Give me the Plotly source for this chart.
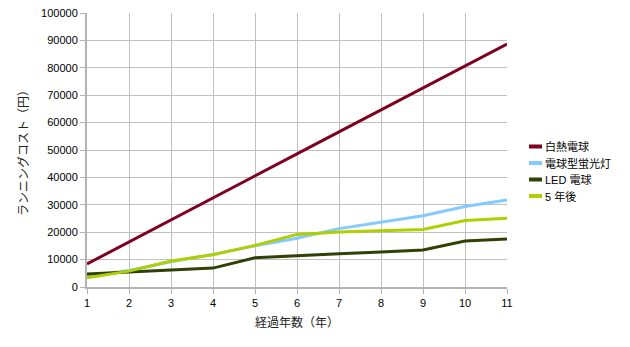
import plotly.graph_objects as go

years = [1, 2, 3, 4, 5, 6, 7, 8, 9, 10, 11]
incandescent = [8400, 16500, 24300, 32400, 40800, 48600, 56600, 64600, 72600, 80600, 88700]
fluorescent = [3800, 6000, 9200, 11900, 15000, 17800, 21300, 23700, 26000, 29400, 31800]
led = [4700, 5500, 6300, 6900, 10700, 11500, 12100, 12800, 13500, 16800, 17500]
five_years = [3400, 5800, 9500, 11800, 15200, 19200, 20100, 20500, 21000, 24300, 25100]

series = [
    ("白熱電球", incandescent, "#7e0021"),
    ("電球型蛍光灯", fluorescent, "#83caff"),
    ("LED 電球", led, "#314004"),
    ("5 年後", five_years, "#aecf00"),
]

W, H = 630, 347
ml, mr, mt, mb = 87, 123, 13, 60

fig = go.Figure()
for name, vals, color in series:
    fig.add_trace(go.Scatter(x=years, y=vals, name=name, mode="lines",
                             line=dict(color=color, width=3), showlegend=False))

# manual legend (paper coordinates derived from pixel layout)
pw, ph = W - ml - mr, H - mt - mb
def px_x(p):
    return (p - ml) / pw
def px_y(p):
    return 1 - (p - mt) / ph

row0, step = 146.5, 16.5
for i, (name, vals, color) in enumerate(series):
    yc = row0 + i * step
    fig.add_shape(type="line", xref="paper", yref="paper",
                  x0=px_x(529), x1=px_x(542), y0=px_y(yc), y1=px_y(yc),
                  line=dict(color=color, width=4))
    fig.add_annotation(x=px_x(543), y=px_y(yc), xref="paper", yref="paper",
                       text=name, showarrow=False, xanchor="left", yanchor="middle",
                       font=dict(size=11, color="black"))

font_family = "Liberation Sans, Noto Sans CJK JP, sans-serif"
fig.update_layout(
    width=W, height=H,
    margin=dict(l=ml, r=mr, t=mt, b=mb, autoexpand=False),
    paper_bgcolor="white", plot_bgcolor="white",
    font=dict(family=font_family, size=11, color="black"),
    showlegend=False,
)
fig.update_xaxes(
    range=[1, 11], tickvals=years, showgrid=True, gridcolor="#c0c0c0", gridwidth=1,
    showline=True, linecolor="#b3b3b3", linewidth=2, mirror=False,
    ticks="outside", ticklen=5, tickcolor="#b3b3b3", zeroline=False,
    title=dict(text="経過年数（年）", font=dict(size=12, color="#222222"), standoff=10),
)
fig.update_yaxes(
    range=[0, 100000], dtick=10000, showgrid=True, gridcolor="#c0c0c0", gridwidth=1,
    showline=True, linecolor="#b3b3b3", linewidth=2,
    ticks="outside", ticklen=5, tickcolor="#b3b3b3", zeroline=False,
    tickformat="d",
    title=dict(text="ランニングコスト（円）", font=dict(size=12, color="#222222"), standoff=10),
)
fig.write_html("out.html")
